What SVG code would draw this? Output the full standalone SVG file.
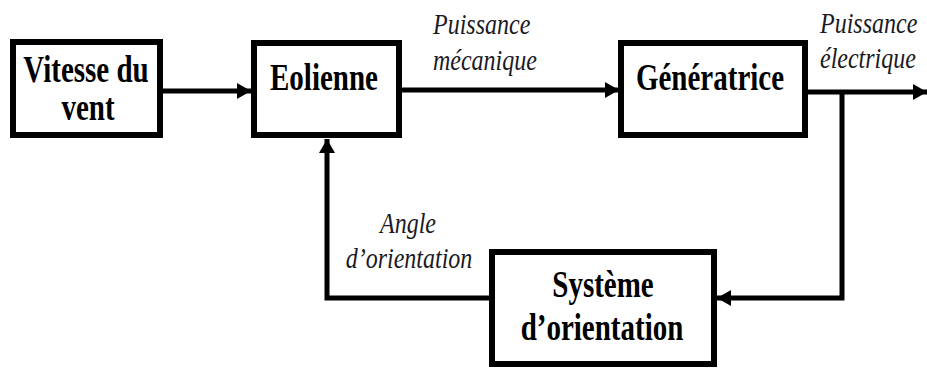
<svg xmlns="http://www.w3.org/2000/svg" width="927" height="370" viewBox="0 0 927 370">
<style>
.box{fill:#fff;stroke:#000;stroke-width:6}
.lbl{font-family:"Liberation Serif","Times New Roman",serif;font-weight:bold;font-size:29px;fill:#000;text-anchor:middle}
.it{font-family:"Liberation Serif","Times New Roman",serif;font-style:italic;font-size:24px;fill:#1a1a24}
.ln{fill:none;stroke:#000;stroke-width:5}
</style>
<defs>
<marker id="ah" markerUnits="userSpaceOnUse" markerWidth="14" markerHeight="16" refX="14" refY="8" orient="auto">
<polygon points="0,0 14,8 0,16" fill="#000"/>
</marker>
</defs>
<rect width="927" height="370" fill="#fff"/>
<g id="connectors">
<line class="ln" x1="163" y1="91" x2="251" y2="91" marker-end="url(#ah)"/>
<line class="ln" x1="402" y1="90" x2="619" y2="90" marker-end="url(#ah)"/>
<line class="ln" x1="808" y1="92" x2="927" y2="92" marker-end="url(#ah)"/>
<path class="ln" d="M842,92 V298 H717" marker-end="url(#ah)"/>
<path class="ln" d="M489,298 H327 V139" marker-end="url(#ah)"/>
</g>
<g id="vitesse">
<rect class="box" x="13" y="42" width="147" height="93"/>
<text class="lbl" transform="translate(86,82) scale(1,1.3)">Vitesse du</text>
<text class="lbl" transform="translate(88,120) scale(1,1.3)">vent</text>
</g>
<g id="eolienne">
<rect class="box" x="254" y="43" width="145" height="92"/>
<text class="lbl" transform="translate(324,90) scale(1,1.3)">Eolienne</text>
</g>
<g id="generatrice">
<rect class="box" x="621" y="43" width="184" height="92"/>
<text class="lbl" transform="translate(710,90) scale(1,1.3)">Génératrice</text>
</g>
<g id="systeme">
<rect class="box" x="492" y="252" width="222" height="112"/>
<text class="lbl" transform="translate(603,297) scale(1,1.3)">Système</text>
<text class="lbl" transform="translate(602,340) scale(1,1.3)">d’orientation</text>
</g>
<g id="labels">
<text class="it" transform="translate(433,34) scale(1,1.2)">Puissance</text>
<text class="it" transform="translate(433,70) scale(1,1.2)">mécanique</text>
<text class="it" transform="translate(820,33) scale(1,1.2)">Puissance</text>
<text class="it" transform="translate(820,68) scale(1,1.2)">électrique</text>
<text class="it" text-anchor="middle" transform="translate(408,233) scale(1,1.2)">Angle</text>
<text class="it" text-anchor="middle" transform="translate(409,268) scale(1,1.2)">d’orientation</text>
</g>
</svg>
